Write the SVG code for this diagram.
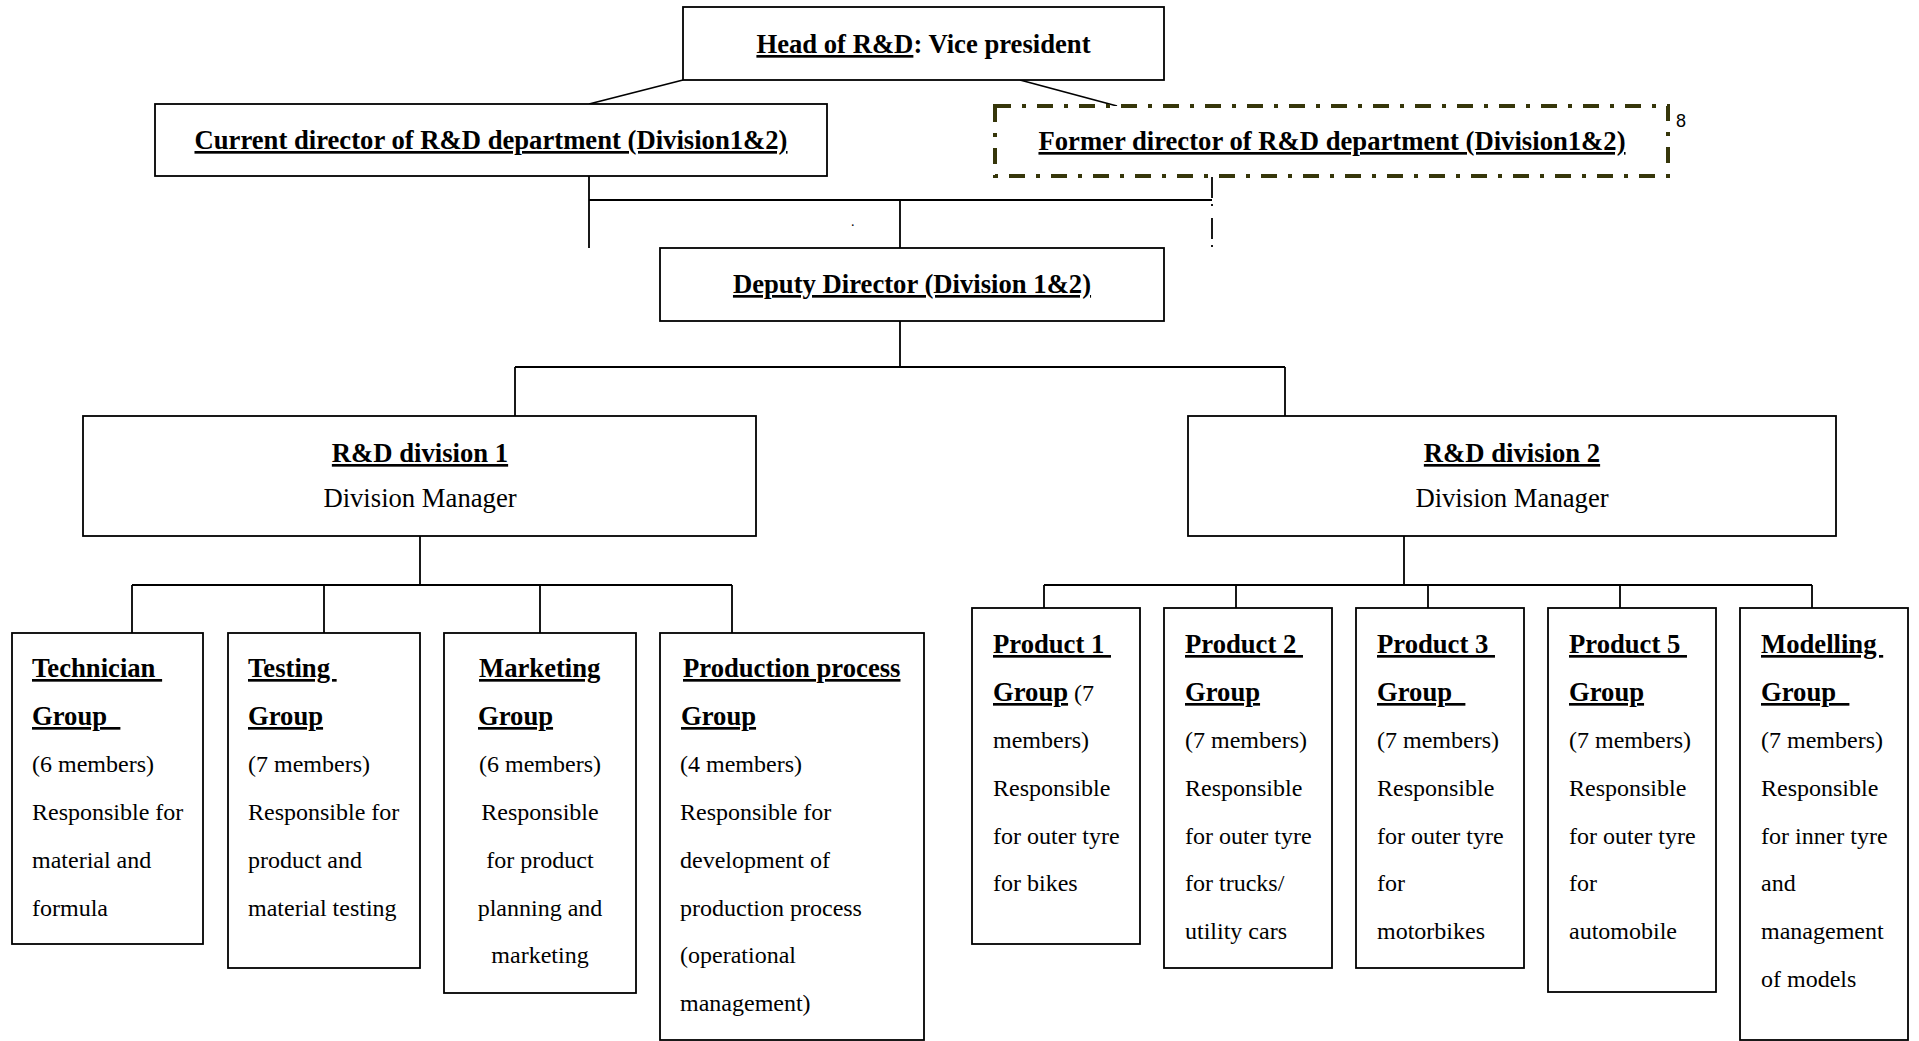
<svg xmlns="http://www.w3.org/2000/svg" width="1919" height="1041" viewBox="0 0 1919 1041">
<style>
  .bg { fill: #ffffff; }
  .box { fill: #ffffff; stroke: #000000; stroke-width: 1.8; }
  .fbox { fill: #ffffff; stroke: #36360a; stroke-width: 4; stroke-dasharray: 16 11 4 11; }
  .ln { stroke: #000000; stroke-width: 1.8; fill: none; }
  .dln { stroke: #000000; stroke-width: 1.8; fill: none; stroke-dasharray: 21 6 2 12; }
  text { font-family: "Liberation Serif", "Times New Roman", serif; fill: #000000; white-space: pre; }
  .b { font-weight: bold; font-size: 26.67px; }
  .r { font-size: 24px; font-weight: normal; }
  .rb { font-size: 26.67px; font-weight: normal; }
  .u { text-decoration: underline; text-decoration-thickness: 2.5px; text-underline-offset: 3px; }
  .c { text-anchor: middle; }
  .fn { font-family: "Liberation Sans", Arial, sans-serif; font-size: 18px; }
</style>
<rect class="bg" x="0" y="0" width="1919" height="1041"/>

<g id="connectors">
  <line class="ln" x1="683" y1="80" x2="589" y2="104"/>
  <line class="ln" x1="1020" y1="80" x2="1117" y2="106"/>
  <line class="ln" x1="589" y1="176" x2="589" y2="248"/>
  <line class="ln" x1="589" y1="200" x2="1212" y2="200"/>
  <line class="ln" x1="900" y1="200" x2="900" y2="248"/>
  <line class="dln" x1="1212" y1="177" x2="1212" y2="248"/>
  <line class="ln" x1="900" y1="321" x2="900" y2="367"/>
  <line class="ln" x1="515" y1="367" x2="1285" y2="367"/>
  <line class="ln" x1="515" y1="367" x2="515" y2="416"/>
  <line class="ln" x1="1285" y1="367" x2="1285" y2="416"/>
  <line class="ln" x1="420" y1="536" x2="420" y2="585"/>
  <line class="ln" x1="132" y1="585" x2="732" y2="585"/>
  <line class="ln" x1="132" y1="585" x2="132" y2="633"/>
  <line class="ln" x1="324" y1="585" x2="324" y2="633"/>
  <line class="ln" x1="540" y1="585" x2="540" y2="633"/>
  <line class="ln" x1="732" y1="585" x2="732" y2="633"/>
  <line class="ln" x1="1404" y1="536" x2="1404" y2="585"/>
  <line class="ln" x1="1044" y1="585" x2="1812" y2="585"/>
  <line class="ln" x1="1044" y1="585" x2="1044" y2="608"/>
  <line class="ln" x1="1236" y1="585" x2="1236" y2="608"/>
  <line class="ln" x1="1428" y1="585" x2="1428" y2="608"/>
  <line class="ln" x1="1620" y1="585" x2="1620" y2="608"/>
  <line class="ln" x1="1812" y1="585" x2="1812" y2="608"/>
</g>

<text class="r" x="851" y="226" style="font-size:14px">.</text>

<g id="head">
  <rect class="box" x="683" y="7" width="481" height="73"/>
  <text class="b c" x="923.5" y="53"><tspan class="u">Head of R&amp;D</tspan>: Vice president</text>
</g>

<g id="current-director">
  <rect class="box" x="155" y="104" width="672" height="72"/>
  <text class="b c u" x="491" y="149">Current director of R&amp;D department (Division1&amp;2)</text>
</g>

<g id="former-director">
  <rect class="fbox" x="995" y="106" width="673" height="70"/>
  <text class="b c u" x="1332" y="150">Former director of R&amp;D department (Division1&amp;2)</text>
  <text class="fn" x="1676" y="127">8</text>
</g>

<g id="deputy-director">
  <rect class="box" x="660" y="248" width="504" height="73"/>
  <text class="b c u" x="912" y="293">Deputy Director (Division 1&amp;2)</text>
</g>

<g id="division-1">
  <rect class="box" x="83" y="416" width="673" height="120"/>
  <text class="b c u" x="420" y="462">R&amp;D division 1</text>
  <text class="rb c" x="420" y="507">Division Manager</text>
</g>

<g id="division-2">
  <rect class="box" x="1188" y="416" width="648" height="120"/>
  <text class="b c u" x="1512" y="462">R&amp;D division 2</text>
  <text class="rb c" x="1512" y="507">Division Manager</text>
</g>

<g id="technician-group">
  <rect class="box" x="12" y="633" width="191" height="311"/>
  <text class="b u" x="32" y="677" xml:space="preserve">Technician </text>
  <text class="b u" x="32" y="725" xml:space="preserve">Group  </text>
  <text class="r" x="32" y="772">(6 members)</text>
  <text class="r" x="32" y="820">Responsible for</text>
  <text class="r" x="32" y="868">material and</text>
  <text class="r" x="32" y="916">formula</text>
</g>

<g id="testing-group">
  <rect class="box" x="228" y="633" width="192" height="335"/>
  <text class="b u" x="248" y="677" xml:space="preserve">Testing </text>
  <text class="b u" x="248" y="725">Group</text>
  <text class="r" x="248" y="772">(7 members)</text>
  <text class="r" x="248" y="820">Responsible for</text>
  <text class="r" x="248" y="868">product and</text>
  <text class="r" x="248" y="916">material testing</text>
</g>

<g id="marketing-group">
  <rect class="box" x="444" y="633" width="192" height="360"/>
  <text class="b u" x="479" y="677">Marketing</text>
  <text class="b u" x="478" y="725">Group</text>
  <text class="r c" x="540" y="772">(6 members)</text>
  <text class="r c" x="540" y="820">Responsible</text>
  <text class="r c" x="540" y="868">for product</text>
  <text class="r c" x="540" y="916">planning and</text>
  <text class="r c" x="540" y="963">marketing</text>
</g>

<g id="production-process-group">
  <rect class="box" x="660" y="633" width="264" height="407"/>
  <text class="b u" x="683" y="677">Production process</text>
  <text class="b u" x="681" y="725">Group</text>
  <text class="r" x="680" y="772">(4 members)</text>
  <text class="r" x="680" y="820">Responsible for</text>
  <text class="r" x="680" y="868">development of</text>
  <text class="r" x="680" y="916">production process</text>
  <text class="r" x="680" y="963">(operational</text>
  <text class="r" x="680" y="1011">management)</text>
</g>

<g id="product-1-group">
  <rect class="box" x="972" y="608" width="168" height="336"/>
  <text class="b u" x="993" y="653" xml:space="preserve">Product 1 </text>
  <text class="b" x="993" y="701" xml:space="preserve"><tspan class="u">Group</tspan><tspan class="r"> (7</tspan></text>
  <text class="r" x="993" y="748">members)</text>
  <text class="r" x="993" y="796">Responsible</text>
  <text class="r" x="993" y="844">for outer tyre</text>
  <text class="r" x="993" y="891">for bikes</text>
</g>

<g id="product-2-group">
  <rect class="box" x="1164" y="608" width="168" height="360"/>
  <text class="b u" x="1185" y="653" xml:space="preserve">Product 2 </text>
  <text class="b u" x="1185" y="701">Group</text>
  <text class="r" x="1185" y="748">(7 members)</text>
  <text class="r" x="1185" y="796">Responsible</text>
  <text class="r" x="1185" y="844">for outer tyre</text>
  <text class="r" x="1185" y="891">for trucks/</text>
  <text class="r" x="1185" y="939">utility cars</text>
</g>

<g id="product-3-group">
  <rect class="box" x="1356" y="608" width="168" height="360"/>
  <text class="b u" x="1377" y="653" xml:space="preserve">Product 3 </text>
  <text class="b u" x="1377" y="701" xml:space="preserve">Group  </text>
  <text class="r" x="1377" y="748">(7 members)</text>
  <text class="r" x="1377" y="796">Responsible</text>
  <text class="r" x="1377" y="844">for outer tyre</text>
  <text class="r" x="1377" y="891">for</text>
  <text class="r" x="1377" y="939">motorbikes</text>
</g>

<g id="product-5-group">
  <rect class="box" x="1548" y="608" width="168" height="384"/>
  <text class="b u" x="1569" y="653" xml:space="preserve">Product 5 </text>
  <text class="b u" x="1569" y="701">Group</text>
  <text class="r" x="1569" y="748">(7 members)</text>
  <text class="r" x="1569" y="796">Responsible</text>
  <text class="r" x="1569" y="844">for outer tyre</text>
  <text class="r" x="1569" y="891">for</text>
  <text class="r" x="1569" y="939">automobile</text>
</g>

<g id="modelling-group">
  <rect class="box" x="1740" y="608" width="168" height="432"/>
  <text class="b u" x="1761" y="653" xml:space="preserve">Modelling </text>
  <text class="b u" x="1761" y="701" xml:space="preserve">Group  </text>
  <text class="r" x="1761" y="748">(7 members)</text>
  <text class="r" x="1761" y="796">Responsible</text>
  <text class="r" x="1761" y="844">for inner tyre</text>
  <text class="r" x="1761" y="891">and</text>
  <text class="r" x="1761" y="939">management</text>
  <text class="r" x="1761" y="987">of models</text>
</g>
</svg>
